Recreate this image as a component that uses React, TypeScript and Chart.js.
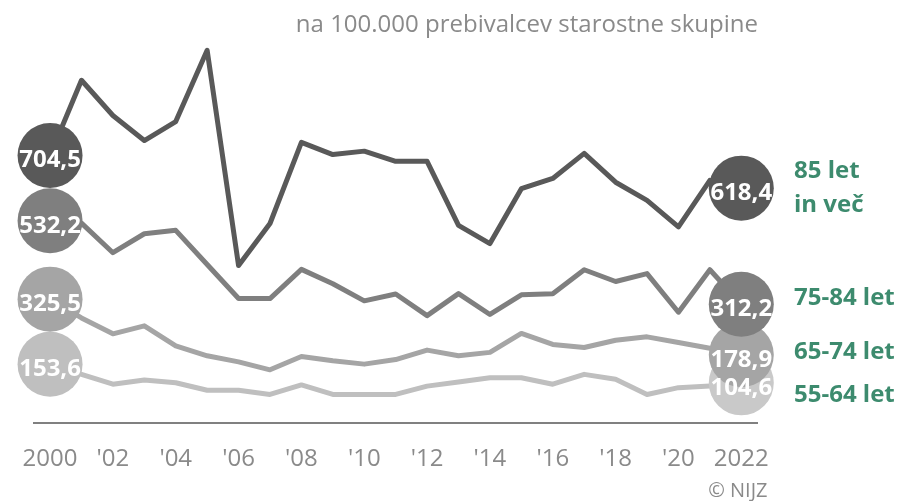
import React, { useEffect, useRef } from 'react';
import { Chart, registerables } from 'chart.js';

Chart.register(...registerables);

const years = [
  '2000', '2001', '2002', '2003', '2004', '2005', '2006', '2007', '2008', '2009', '2010', '2011',
  '2012', '2013', '2014', '2015', '2016', '2017', '2018', '2019', '2020', '2021', '2022',
];
const tickLabels = [
  '2000', '', "'02", '', "'04", '', "'06", '', "'08", '', "'10", '',
  "'12", '', "'14", '', "'16", '', "'18", '', "'20", '', '2022',
];

const age85plus = [704.5, 903, 810, 744, 794, 982, 414, 525, 739, 707, 716, 689, 689, 520, 472, 617, 644, 710, 634, 586, 516, 639, 618.4];
const age75to84 = [532.2, 526, 448, 498, 507, 417, 327, 327, 404, 366, 321, 339, 282, 340, 285, 337, 340, 403, 372, 393, 291, 403, 312.2];
const age65to74 = [325.5, 276, 234, 255, 202, 176, 160, 139, 174, 163, 154, 166, 191, 176, 185, 235, 206, 198, 217, 226, 211, 196, 178.9];
const age55to64 = [153.6, 127, 101, 112, 105, 85, 85, 74, 99, 74, 74, 74, 96, 107, 118, 118, 101, 127, 114, 74, 92, 96, 104.6];

const seriesLabels = [['85 let', 'in več'], ['75-84 let'], ['65-74 let'], ['55-64 let']];
const titleText = 'na 100.000 prebivalcev starostne skupine';
const sourceText = '© NIJZ';

const lineColors = ['#595959', '#7f7f7f', '#a5a5a5', '#bfbfbf'];
const startCircleColors = ['#595959', '#7f7f7f', '#a5a5a5', '#bfbfbf'];
const endCircleColors = ['#595959', '#7f7f7f', '#a5a5a5', '#c9c9c9'];
const labelBaselines = [[178, 211.5], [305], [358.5], [401.5]];
const GREEN = '#3d8b6e';
const GREY_TEXT = '#8a8a8a';
const FONT = '"Open Sans", "Noto Sans", sans-serif';

const fmt = (v: number) => v.toFixed(1).replace('.', ',');

const overlayPlugin = {
  id: 'overlay',
  afterDatasetsDraw(chart: any) {
    const ctx = chart.ctx as CanvasRenderingContext2D;
    ctx.save();
    const n = chart.data.datasets.length;
    const texts: { x: number; y: number; t: string }[] = [];
    for (let d = n - 1; d >= 0; d--) {
      const meta = chart.getDatasetMeta(d);
      const data = chart.data.datasets[d].data as number[];
      const idxs = [0, meta.data.length - 1];
      idxs.forEach((i, k) => {
        const pt = meta.data[i];
        ctx.beginPath();
        ctx.arc(pt.x, pt.y, 32.5, 0, Math.PI * 2);
        ctx.fillStyle = k === 0 ? startCircleColors[d] : endCircleColors[d];
        ctx.fill();
        texts.push({ x: pt.x, y: pt.y, t: fmt(data[i]) });
      });
    }
    ctx.fillStyle = '#ffffff';
    ctx.font = `bold 24px ${FONT}`;
    ctx.textAlign = 'center';
    ctx.textBaseline = 'alphabetic';
    texts.forEach((o) => ctx.fillText(o.t, o.x, o.y + 12));
    ctx.restore();
  },
  afterDraw(chart: any) {
    const ctx = chart.ctx as CanvasRenderingContext2D;
    ctx.save();
    ctx.textBaseline = 'alphabetic';
    // title
    ctx.fillStyle = GREY_TEXT;
    ctx.font = `24px ${FONT}`;
    ctx.textAlign = 'right';
    ctx.fillText(titleText, 758, 31.5);
    // source
    ctx.font = `20px ${FONT}`;
    ctx.fillText(sourceText, 767.5, 497);
    // series labels
    ctx.fillStyle = GREEN;
    ctx.font = `bold 24px ${FONT}`;
    ctx.textAlign = 'left';
    seriesLabels.forEach((lines, d) => {
      lines.forEach((line, j) => ctx.fillText(line, 794, labelBaselines[d][j]));
    });
    ctx.restore();
  },
};

export default function App() {
  const ref = useRef<HTMLCanvasElement | null>(null);
  useEffect(() => {
    document.body.style.margin = '0';
    if (!ref.current) return;
    const series = [age85plus, age75to84, age65to74, age55to64];
    const chart = new Chart(ref.current, {
      type: 'line',
      data: {
        labels: years,
        datasets: series.map((s, d) => ({
          label: seriesLabels[d].join(' '),
          data: s,
          borderColor: lineColors[d],
          backgroundColor: lineColors[d],
          borderWidth: 5,
          pointRadius: 0,
          pointHoverRadius: 0,
          tension: 0,
          borderJoinStyle: 'round' as const,
          fill: false,
          clip: false as any,
        })),
      },
      options: {
        animation: false,
        responsive: false,
        events: [],
        layout: { padding: { left: 28, right: 144, top: 43.5, bottom: 5.7 } },
        plugins: {
          legend: { display: false },
          title: { display: false },
          tooltip: { enabled: false },
        },
        scales: {
          x: {
            offset: true,
            grid: { display: false, drawTicks: false },
            border: { display: true, color: '#808080', width: 2 },
            ticks: {
              autoSkip: false,
              maxRotation: 0,
              padding: 22,
              color: GREY_TEXT,
              font: { family: FONT, size: 24 },
              callback: (_v: any, i: number) => tickLabels[i],
            },
          },
          y: { display: false, min: 0, max: 1000 },
        },
      },
      plugins: [overlayPlugin],
    });
    return () => chart.destroy();
  }, []);
  return (
    <div style={{ width: 901, height: 501, position: 'relative' }}>
      <canvas ref={ref} width={901} height={501} />
    </div>
  );
}
